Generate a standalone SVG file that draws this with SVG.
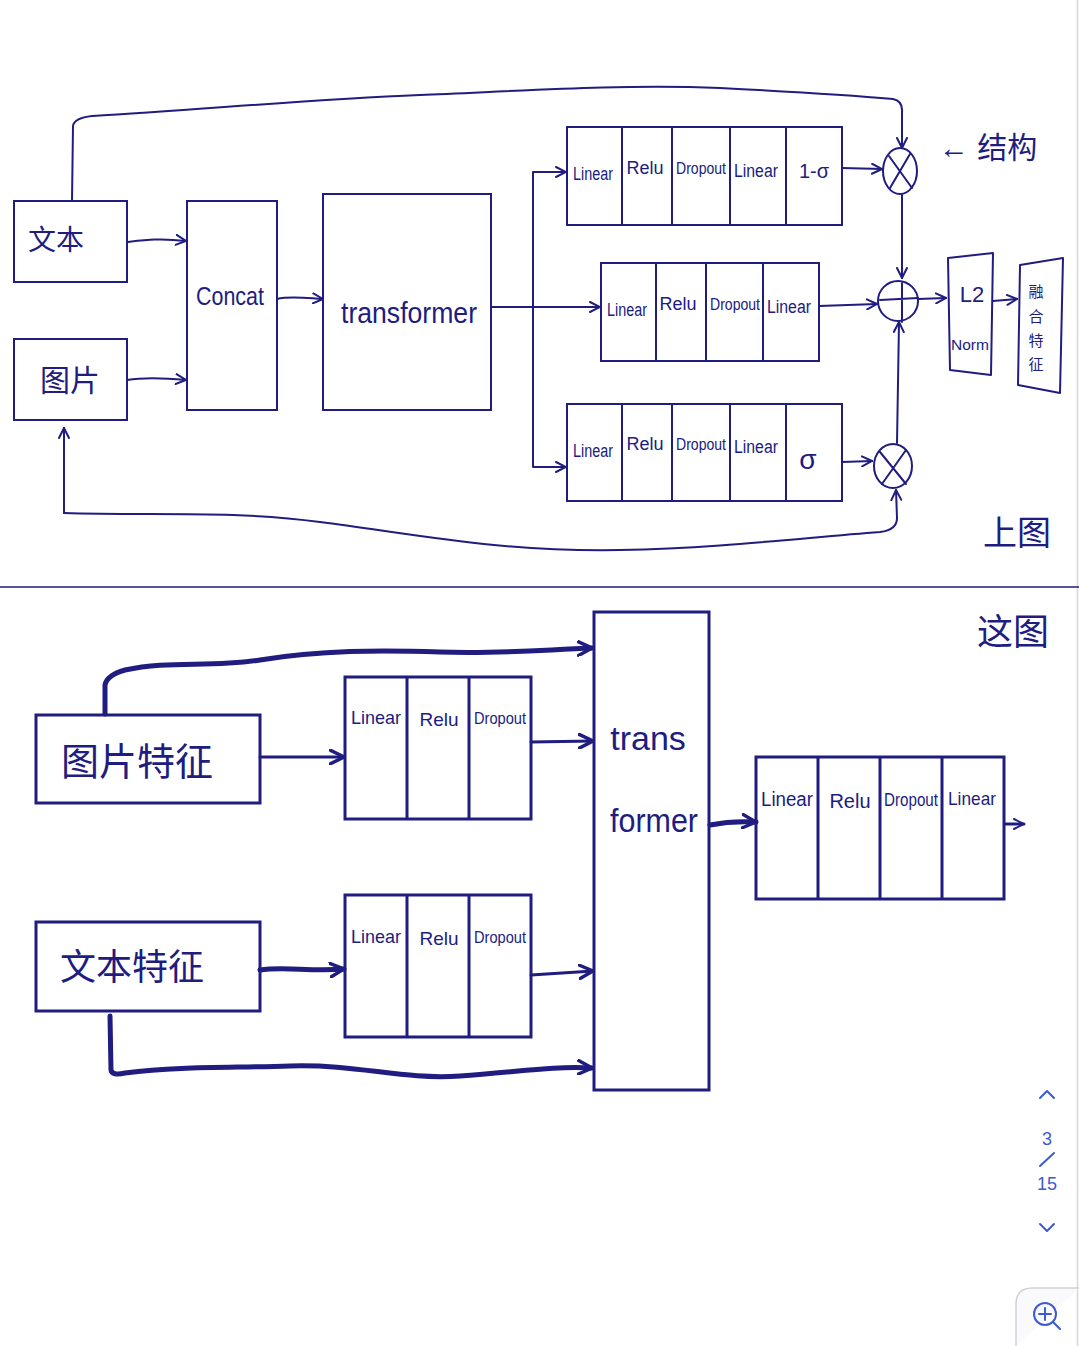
<svg xmlns="http://www.w3.org/2000/svg" width="1079" height="1346" viewBox="0 0 1079 1346">
<style>
.bx{fill:none;stroke:#201c80;stroke-width:2}
.bx3{fill:none;stroke:#201c80;stroke-width:3}
.ln{fill:none;stroke:#201c80;stroke-width:2;stroke-linecap:round;stroke-linejoin:round}
.tk{fill:none;stroke:#201c80;stroke-width:5;stroke-linecap:round;stroke-linejoin:round}
.md{fill:none;stroke:#201c80;stroke-width:3;stroke-linecap:round;stroke-linejoin:round}
.t{font-family:"Liberation Sans","Noto Sans CJK SC",sans-serif;fill:#201c80}
.ui{font-family:"Liberation Sans",sans-serif;fill:#3d5bd0;font-size:18px;text-anchor:middle}
.uil{fill:none;stroke:#3d5bd0;stroke-width:2;stroke-linecap:round;stroke-linejoin:round}
</style>
<defs>
<marker id="a" viewBox="0 0 12 12" refX="11" refY="6" markerWidth="12" markerHeight="12" markerUnits="userSpaceOnUse" orient="auto">
<path d="M1,1 L11,6 L1,11" fill="none" stroke="#201c80" stroke-width="2" stroke-linecap="round"/>
</marker>
<marker id="b" viewBox="0 0 14 14" refX="13" refY="7" markerWidth="16" markerHeight="16" markerUnits="userSpaceOnUse" orient="auto">
<path d="M1,1 L13,7 L1,13" fill="none" stroke="#201c80" stroke-width="3" stroke-linecap="round"/>
</marker>
</defs>
<rect width="1079" height="1346" fill="#ffffff"/>
<line x1="1077.5" y1="0" x2="1077.5" y2="1346" stroke="#d8d8dc" stroke-width="1.5"/>
<line x1="0" y1="587" x2="1079" y2="587" stroke="#201c80" stroke-width="1.5"/>

<g id="connectors">
<path class="ln" marker-end="url(#a)" d="M72,201 L73,126 Q74,118 92,116 C200,110 300,100 420,95 C520,91 620,84 720,88 C800,92 860,96 893,99 Q903,101 902,112 L902,148"/>
<path class="ln" marker-end="url(#a)" d="M127,242 C145,240 160,238 186,241"/>
<path class="ln" marker-end="url(#a)" d="M127,380 C145,377 165,378 186,380"/>
<path class="ln" marker-end="url(#a)" d="M277,299 C290,296 305,298 323,299"/>
<path class="ln" d="M491,307 L533,307"/>
<path class="ln" marker-end="url(#a)" d="M533,307 L533,172 L566,172"/>
<path class="ln" marker-end="url(#a)" d="M533,307 L600,307"/>
<path class="ln" marker-end="url(#a)" d="M533,307 L533,467 L566,467"/>
<path class="ln" marker-end="url(#a)" d="M842,168 L882,169"/>
<path class="ln" marker-end="url(#a)" d="M902,195 L902,278"/>
<path class="ln" marker-end="url(#a)" d="M819,306 L877,304"/>
<path class="ln" marker-end="url(#a)" d="M897,443 L899,322"/>
<path class="ln" marker-end="url(#a)" d="M842,462 L872,461"/>
<path class="ln" marker-end="url(#a)" d="M918,299 L946,298"/>
<path class="ln" marker-end="url(#a)" d="M993,301 L1017,299"/>
<path class="ln" marker-end="url(#a)" d="M64,513 L64,428"/>
<path class="ln" marker-end="url(#a)" d="M64,513 C150,516 230,510 320,522 C420,535 500,552 620,550 C720,548 800,538 880,532 Q897,530 897,518 L896,490"/>

<path class="tk" marker-end="url(#b)" d="M105,714 L105,685 Q107,675 125,670 C170,660 210,668 260,660 C320,650 380,650 440,652 C500,654 540,650 592,648"/>
<path class="md" marker-end="url(#b)" d="M260,757 L344,757"/>
<path class="md" marker-end="url(#b)" d="M531,742 L593,741"/>
<path class="tk" marker-end="url(#b)" d="M710,825 C725,822 740,821 756,822"/>
<path class="tk" marker-end="url(#b)" d="M260,970 C285,966 310,972 344,969"/>
<path class="md" marker-end="url(#b)" d="M531,975 L593,971"/>
<path class="tk" marker-end="url(#b)" d="M110,1016 L111,1070 Q112,1076 125,1073 C180,1066 230,1068 290,1066 C360,1064 400,1080 460,1076 C520,1072 550,1066 592,1068"/>
<path class="md" marker-end="url(#a)" d="M1005,824 L1024,824"/>
</g>

<g id="text-box">
<rect class="bx" x="14" y="201" width="113" height="81"/>
<text class="t" x="56" y="250" font-size="28" text-anchor="middle">文本</text>
</g>
<g id="image-box">
<rect class="bx" x="14" y="339" width="113" height="81"/>
<text class="t" x="70" y="391" font-size="30" text-anchor="middle">图片</text>
</g>
<g id="concat">
<rect class="bx" x="187" y="201" width="90" height="209"/>
<text class="t" x="230" y="305" font-size="26" text-anchor="middle" textLength="68" lengthAdjust="spacingAndGlyphs">Concat</text>
</g>
<g id="transformer-top">
<rect class="bx" x="323" y="194" width="168" height="216"/>
<text class="t" x="409" y="323" font-size="30" text-anchor="middle" textLength="136" lengthAdjust="spacingAndGlyphs">transformer</text>
</g>

<g id="gate-top">
<rect class="bx" x="567" y="127" width="275" height="98"/>
<path class="bx" d="M622,127 V225 M672,127 V225 M730,127 V225 M786,127 V225"/>
<text class="t" x="593" y="180" font-size="18" text-anchor="middle" textLength="40" lengthAdjust="spacingAndGlyphs">Linear</text>
<text class="t" x="645" y="174" font-size="18" text-anchor="middle">Relu</text>
<text class="t" x="701" y="174" font-size="17" text-anchor="middle" textLength="50" lengthAdjust="spacingAndGlyphs">Dropout</text>
<text class="t" x="756" y="177" font-size="18" text-anchor="middle" textLength="44" lengthAdjust="spacingAndGlyphs">Linear</text>
<text class="t" x="814" y="178" font-size="20" text-anchor="middle">1-σ</text>
</g>
<g id="mid-block">
<rect class="bx" x="601" y="263" width="218" height="98"/>
<path class="bx" d="M656,263 V361 M706,263 V361 M763,263 V361"/>
<text class="t" x="627" y="316" font-size="18" text-anchor="middle" textLength="40" lengthAdjust="spacingAndGlyphs">Linear</text>
<text class="t" x="678" y="310" font-size="18" text-anchor="middle">Relu</text>
<text class="t" x="735" y="310" font-size="17" text-anchor="middle" textLength="50" lengthAdjust="spacingAndGlyphs">Dropout</text>
<text class="t" x="789" y="313" font-size="18" text-anchor="middle" textLength="44" lengthAdjust="spacingAndGlyphs">Linear</text>
</g>
<g id="gate-bottom">
<rect class="bx" x="567" y="404" width="275" height="97"/>
<path class="bx" d="M622,404 V501 M672,404 V501 M730,404 V501 M786,404 V501"/>
<text class="t" x="593" y="457" font-size="18" text-anchor="middle" textLength="40" lengthAdjust="spacingAndGlyphs">Linear</text>
<text class="t" x="645" y="450" font-size="18" text-anchor="middle">Relu</text>
<text class="t" x="701" y="450" font-size="17" text-anchor="middle" textLength="50" lengthAdjust="spacingAndGlyphs">Dropout</text>
<text class="t" x="756" y="453" font-size="18" text-anchor="middle" textLength="44" lengthAdjust="spacingAndGlyphs">Linear</text>
<text class="t" x="808" y="469" font-size="28" text-anchor="middle">σ</text>
</g>

<g id="mul-top">
<ellipse class="ln" cx="900" cy="171" rx="17" ry="23"/>
<path class="ln" d="M889,156 L912,188 M910,154 L890,188"/>
</g>
<g id="add">
<circle class="ln" cx="898" cy="301" r="20"/>
<path class="ln" d="M880,300 L918,298 M902,283 L902,322"/>
</g>
<g id="mul-bottom">
<ellipse class="ln" cx="893" cy="466" rx="19" ry="22"/>
<path class="ln" d="M880,452 L906,484 M906,450 L882,484"/>
</g>
<g id="l2norm">
<path class="ln" d="M948,258 L993,253 L991,375 L950,370 Z"/>
<text class="t" x="972" y="302" font-size="22" text-anchor="middle">L2</text>
<text class="t" x="970" y="350" font-size="15" text-anchor="middle" textLength="38" lengthAdjust="spacingAndGlyphs">Norm</text>
</g>
<g id="fused">
<path class="ln" d="M1020,265 L1063,258 L1060,393 L1018,385 Z"/>
<text class="t" x="1036" y="297" font-size="15" text-anchor="middle">融</text>
<text class="t" x="1036" y="322" font-size="15" text-anchor="middle">合</text>
<text class="t" x="1036" y="346" font-size="15" text-anchor="middle">特</text>
<text class="t" x="1036" y="370" font-size="15" text-anchor="middle">征</text>
</g>
<g id="note-top">
<text class="t" x="988" y="158" font-size="30" text-anchor="middle">← 结构</text>
</g>
<g id="label-upper">
<text class="t" x="1017" y="545" font-size="34" text-anchor="middle">上图</text>
</g>

<g id="img-feat">
<rect class="bx3" x="36" y="715" width="224" height="88"/>
<text class="t" x="137" y="775" font-size="38" text-anchor="middle">图片特征</text>
</g>
<g id="txt-feat">
<rect class="bx3" x="36" y="922" width="224" height="89"/>
<text class="t" x="132" y="980" font-size="36" text-anchor="middle">文本特征</text>
</g>
<g id="lrd-upper">
<rect class="bx3" x="345" y="677" width="186" height="142"/>
<path class="bx3" d="M407,677 V819 M469,677 V819"/>
<text class="t" x="376" y="724" font-size="19" text-anchor="middle" textLength="50" lengthAdjust="spacingAndGlyphs">Linear</text>
<text class="t" x="439" y="726" font-size="19" text-anchor="middle">Relu</text>
<text class="t" x="500" y="724" font-size="17" text-anchor="middle" textLength="52" lengthAdjust="spacingAndGlyphs">Dropout</text>
</g>
<g id="lrd-lower">
<rect class="bx3" x="345" y="895" width="186" height="142"/>
<path class="bx3" d="M407,895 V1037 M469,895 V1037"/>
<text class="t" x="376" y="943" font-size="19" text-anchor="middle" textLength="50" lengthAdjust="spacingAndGlyphs">Linear</text>
<text class="t" x="439" y="945" font-size="19" text-anchor="middle">Relu</text>
<text class="t" x="500" y="943" font-size="17" text-anchor="middle" textLength="52" lengthAdjust="spacingAndGlyphs">Dropout</text>
</g>
<g id="transformer-bottom">
<rect class="bx3" x="594" y="612" width="115" height="478"/>
<text class="t" x="648" y="750" font-size="34" text-anchor="middle">trans</text>
<text class="t" x="654" y="832" font-size="34" text-anchor="middle" textLength="88" lengthAdjust="spacingAndGlyphs">former</text>
</g>
<g id="head">
<rect class="bx3" x="756" y="757" width="248" height="142"/>
<path class="bx3" d="M818,757 V899 M880,757 V899 M942,757 V899"/>
<text class="t" x="787" y="806" font-size="20" text-anchor="middle" textLength="52" lengthAdjust="spacingAndGlyphs">Linear</text>
<text class="t" x="850" y="808" font-size="20" text-anchor="middle">Relu</text>
<text class="t" x="911" y="806" font-size="18" text-anchor="middle" textLength="54" lengthAdjust="spacingAndGlyphs">Dropout</text>
<text class="t" x="972" y="805" font-size="19" text-anchor="middle" textLength="48" lengthAdjust="spacingAndGlyphs">Linear</text>
</g>
<g id="label-lower">
<text class="t" x="1013" y="645" font-size="36" text-anchor="middle">这图</text>
</g>

<g id="pager">
<path class="uil" d="M1040,1098 L1047,1091 L1054,1098"/>
<text class="ui" x="1047" y="1145">3</text>
<path class="uil" d="M1040,1166 L1054,1153"/>
<text class="ui" x="1047" y="1190">15</text>
<path class="uil" d="M1040,1224 L1047,1231 L1054,1224"/>
<path d="M1079,1288 L1032,1288 Q1016,1288 1016,1304 L1016,1346" fill="#fafafc" stroke="#d0d0d6" stroke-width="1.5"/>
<circle class="uil" cx="1045" cy="1314" r="11"/>
<path class="uil" d="M1045,1308 V1320 M1039,1314 H1051 M1053,1322 L1060,1329"/>
</g>
</svg>
